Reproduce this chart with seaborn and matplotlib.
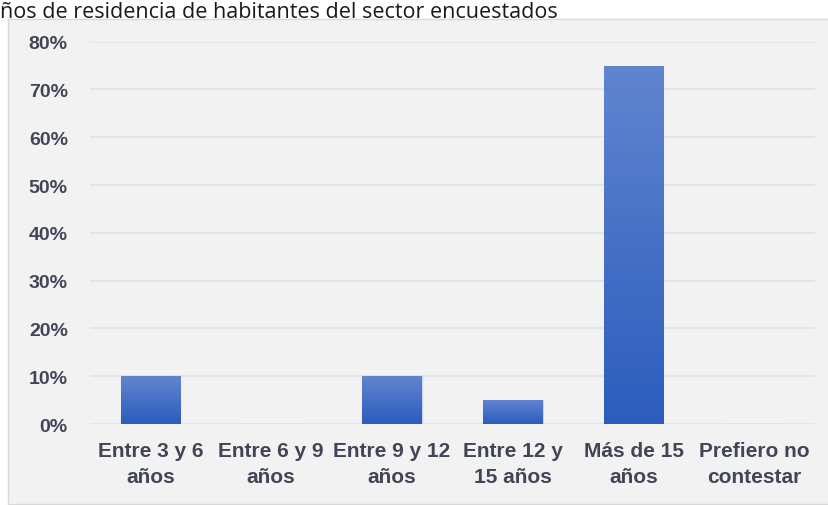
import numpy as np
import pandas as pd
import matplotlib
matplotlib.use("Agg")
import matplotlib.pyplot as plt
import seaborn as sns
from matplotlib.ticker import PercentFormatter
from matplotlib.patches import Rectangle

categories = ["Entre 3 y 6\naños", "Entre 6 y 9\naños", "Entre 9 y 12\naños",
              "Entre 12 y\n15 años", "Más de 15\naños", "Prefiero no\ncontestar"]
values = [0.10, 0.0, 0.10, 0.05, 0.75, 0.0]
yticks = [0, 0.1, 0.2, 0.3, 0.4, 0.5, 0.6, 0.7, 0.8]
title = "ños de residencia de habitantes del sector encuestados"

sns.set_theme(style="white")
plt.rcParams['font.family'] = ["Liberation Sans", 'DejaVu Sans']

W, H = 829, 506
fig = plt.figure(figsize=(W / 100, H / 100), dpi=100)
fig.patch.set_facecolor("white")

# chart area
fig.patches.append(Rectangle((8 / W, 1 / H), (W - 8) / W, (H - 21) / H,
                             transform=fig.transFigure, facecolor="#f2f2f2",
                             edgecolor="#d9d9d9", linewidth=1, zorder=-5))

# title (cut off in the source; kept fully visible here)
fig.text(0 / W, 1 - 18 / H, title, fontsize=15.5, color="#1a1a1a",
         family=["Open Sans", "DejaVu Sans"], ha="left", va="baseline")

ax = fig.add_axes([90 / W, 1 - 425 / H, (815 - 90) / W, (425 - 42.7) / H])
ax.set_facecolor("none")
ax.set_zorder(2)

df = pd.DataFrame({"cat": categories, "val": values})
sns.barplot(data=df, x="cat", y="val", ax=ax, color="#4472c4", width=0.49,
            edgecolor="#c9d5ee", linewidth=0.8, zorder=3)

# vertical gradient in each bar
grad = np.linspace(0, 1, 256).reshape(-1, 1)
cmap = matplotlib.colors.LinearSegmentedColormap.from_list("g", ["#2c5cbd", "#6185cf"])
for p in ax.patches:
    h = p.get_height()
    if h <= 0:
        continue
    x0 = p.get_x()
    w = p.get_width()
    im = ax.imshow(grad, extent=[x0, x0 + w, 0, h], origin="lower", cmap=cmap,
                   aspect="auto", zorder=3.5)
    im.set_clip_path(p)

ax.set_xlim(-0.5, 5.5)
ax.set_ylim(0, 0.8)
ax.set_yticks(yticks)
ax.yaxis.set_major_formatter(PercentFormatter(1.0, decimals=0))
ax.grid(axis="y", color="#dde2ea", linewidth=1.2, zorder=0)
ax.set_axisbelow(True)
for s in ax.spines.values():
    s.set_visible(False)
ax.set_xlabel("")
ax.set_ylabel("")
ax.tick_params(axis="y", length=0, pad=16, labelsize=14, labelcolor="#414656")
ax.tick_params(axis="x", length=0, pad=12, labelsize=15, labelcolor="#414656")
for t in ax.get_xticklabels() + ax.get_yticklabels():
    t.set_fontweight("bold")
for t in ax.get_xticklabels():
    t.set_linespacing(1.5)

fig.savefig("out.png", dpi=100, facecolor=fig.get_facecolor())
